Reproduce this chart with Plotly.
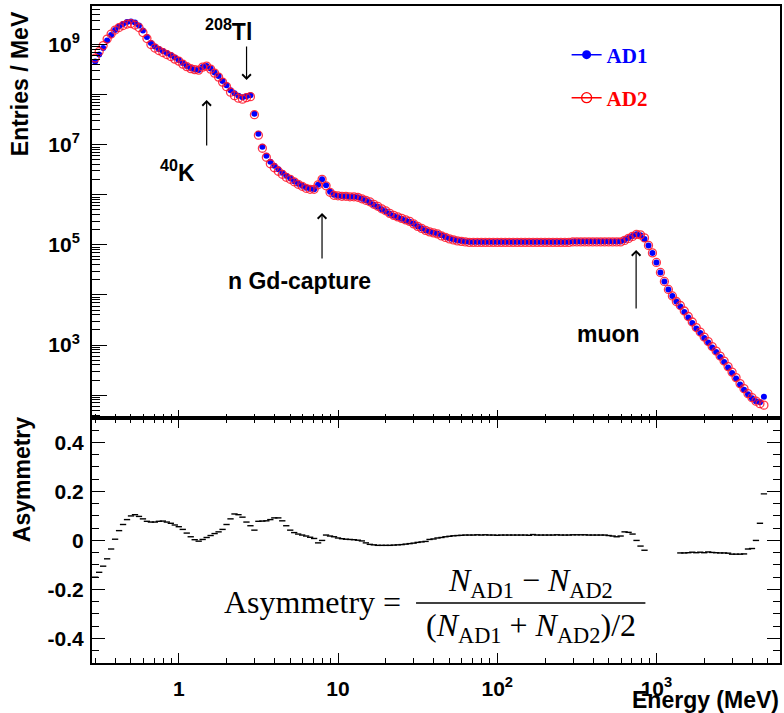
import plotly.graph_objects as go

# ---------------- data ----------------
# bin centres, log10(E / MeV)
LOG10_E = [
    -0.525, -0.500, -0.475, -0.450, -0.425, -0.400, -0.375, -0.350, -0.325, -0.300,
    -0.275, -0.250, -0.225, -0.200, -0.175, -0.150, -0.125, -0.100, -0.075, -0.050,
    -0.025, 0.000, 0.025, 0.050, 0.075, 0.100, 0.125, 0.150, 0.175, 0.200,
    0.225, 0.250, 0.275, 0.300, 0.325, 0.350, 0.375, 0.400, 0.425, 0.450,
    0.475, 0.500, 0.525, 0.550, 0.575, 0.600, 0.625, 0.650, 0.675, 0.700,
    0.725, 0.750, 0.775, 0.800, 0.825, 0.850, 0.875, 0.900, 0.925, 0.950,
    0.975, 1.000, 1.025, 1.050, 1.075, 1.100, 1.125, 1.150, 1.175, 1.200,
    1.225, 1.250, 1.275, 1.300, 1.325, 1.350, 1.375, 1.400, 1.425, 1.450,
    1.475, 1.500, 1.525, 1.550, 1.575, 1.600, 1.625, 1.650, 1.675, 1.700,
    1.725, 1.750, 1.775, 1.800, 1.825, 1.850, 1.875, 1.900, 1.925, 1.950,
    1.975, 2.000, 2.025, 2.050, 2.075, 2.100, 2.125, 2.150, 2.175, 2.200,
    2.225, 2.250, 2.275, 2.300, 2.325, 2.350, 2.375, 2.400, 2.425, 2.450,
    2.475, 2.500, 2.525, 2.550, 2.575, 2.600, 2.625, 2.650, 2.675, 2.700,
    2.725, 2.750, 2.775, 2.800, 2.825, 2.850, 2.875, 2.900, 2.925, 2.950,
    2.975, 3.000, 3.025, 3.050, 3.075, 3.100, 3.125, 3.150, 3.175, 3.200,
    3.225, 3.250, 3.275, 3.300, 3.325, 3.350, 3.375, 3.400, 3.425, 3.450,
    3.475, 3.500, 3.525, 3.550, 3.575, 3.600, 3.625, 3.650, 3.675,
]

# log10(Entries / MeV) for AD1
LOG10_AD1 = [
    8.66, 8.80, 8.93, 9.08, 9.19, 9.29, 9.36, 9.41, 9.45, 9.46,
    9.44, 9.38, 9.28, 9.15, 9.03, 8.96, 8.91, 8.87, 8.83, 8.79,
    8.74, 8.69, 8.63, 8.57, 8.53, 8.50, 8.49, 8.55, 8.57, 8.52,
    8.44, 8.37, 8.27, 8.19, 8.09, 8.03, 7.98, 7.95, 7.97, 7.99,
    7.62, 7.22, 6.96, 6.78, 6.66, 6.58, 6.51, 6.44, 6.38, 6.33,
    6.27, 6.22, 6.18, 6.14, 6.12, 6.11, 6.20, 6.31, 6.19, 6.06,
    6.00, 5.98, 5.97, 5.97, 5.96, 5.96, 5.95, 5.92, 5.89, 5.85,
    5.80, 5.76, 5.71, 5.67, 5.62, 5.58, 5.55, 5.52, 5.49, 5.46,
    5.42, 5.37, 5.33, 5.29, 5.26, 5.24, 5.22, 5.19, 5.16, 5.13,
    5.11, 5.09, 5.08, 5.07, 5.06, 5.06, 5.06, 5.06, 5.06, 5.06,
    5.06, 5.06, 5.06, 5.06, 5.06, 5.06, 5.06, 5.06, 5.06, 5.06,
    5.06, 5.06, 5.06, 5.06, 5.06, 5.06, 5.06, 5.06, 5.06, 5.06,
    5.07, 5.07, 5.07, 5.07, 5.07, 5.07, 5.07, 5.07, 5.07, 5.07,
    5.07, 5.07, 5.07, 5.10, 5.14, 5.18, 5.21, 5.19, 5.12, 4.99,
    4.84, 4.65, 4.45, 4.27, 4.11, 3.98, 3.87, 3.77, 3.66, 3.55,
    3.44, 3.33, 3.24, 3.14, 3.05, 2.95, 2.86, 2.76, 2.66, 2.55,
    2.44, 2.33, 2.21, 2.11, 2.02, 1.94, 1.88, 1.86, 1.97,
]

# log10(Entries / MeV) for AD2
LOG10_AD2 = [
    8.73, 8.86, 8.98, 9.11, 9.21, 9.29, 9.34, 9.38, 9.41, 9.42,
    9.39, 9.34, 9.24, 9.12, 9.00, 8.93, 8.88, 8.84, 8.80, 8.76,
    8.71, 8.67, 8.61, 8.56, 8.52, 8.50, 8.49, 8.55, 8.57, 8.51,
    8.43, 8.35, 8.25, 8.16, 8.05, 7.98, 7.93, 7.91, 7.94, 7.96,
    7.60, 7.19, 6.93, 6.75, 6.62, 6.54, 6.47, 6.41, 6.35, 6.31,
    6.26, 6.21, 6.17, 6.13, 6.11, 6.11, 6.20, 6.31, 6.18, 6.05,
    5.99, 5.98, 5.97, 5.97, 5.96, 5.96, 5.95, 5.92, 5.89, 5.86,
    5.81, 5.77, 5.72, 5.68, 5.63, 5.59, 5.56, 5.53, 5.50, 5.47,
    5.42, 5.37, 5.33, 5.29, 5.26, 5.24, 5.22, 5.18, 5.15, 5.12,
    5.10, 5.08, 5.07, 5.06, 5.05, 5.05, 5.05, 5.05, 5.05, 5.05,
    5.05, 5.05, 5.05, 5.05, 5.05, 5.05, 5.05, 5.05, 5.05, 5.05,
    5.05, 5.05, 5.05, 5.05, 5.05, 5.05, 5.05, 5.05, 5.05, 5.05,
    5.06, 5.06, 5.06, 5.06, 5.06, 5.06, 5.06, 5.06, 5.06, 5.06,
    5.06, 5.06, 5.06, 5.09, 5.13, 5.17, 5.21, 5.20, 5.14, 4.99,
    4.84, 4.65, 4.45, 4.27, 4.11, 3.98, 3.87, 3.79, 3.68, 3.57,
    3.46, 3.35, 3.26, 3.16, 3.07, 2.97, 2.88, 2.78, 2.68, 2.57,
    2.46, 2.35, 2.23, 2.13, 2.03, 1.95, 1.88, 1.83, 1.80,
]

# asymmetry (N_AD1 - N_AD2) / ((N_AD1 + N_AD2)/2); None = bin not shown
ASYM = [
    -0.150, -0.130, -0.105, -0.075, -0.035, 0.005, 0.040, 0.065, 0.085, 0.100,
    0.105, 0.098, 0.088, 0.078, 0.075, 0.075, 0.078, 0.079, 0.075, 0.070,
    0.063, 0.056, 0.045, 0.030, 0.015, 0.003, -0.003, 0.004, 0.012, 0.020,
    0.028, 0.035, 0.045, 0.065, 0.088, 0.108, 0.105, 0.095, 0.075, 0.060,
    0.042, 0.078, 0.079, 0.080, 0.085, 0.092, 0.092, 0.080, 0.060, 0.042,
    0.032, 0.026, 0.022, 0.018, 0.013, 0.008, -0.010, 0.000, 0.022, 0.018,
    0.015, 0.010, 0.007, 0.005, 0.004, 0.003, 0.001, -0.002, -0.010, -0.016,
    -0.018, -0.020, -0.020, -0.020, -0.020, -0.019, -0.018, -0.017, -0.015, -0.013,
    -0.011, -0.008, -0.006, -0.004, 0.004, 0.006, 0.010, 0.012, 0.015, 0.017,
    0.019, 0.020, 0.021, 0.022, 0.022, 0.022, 0.023, 0.022, 0.023, 0.022,
    0.022, 0.021, 0.022, 0.022, 0.022, 0.022, 0.022, 0.022, 0.022, 0.021,
    0.024, 0.022, 0.022, 0.022, 0.022, 0.022, 0.023, 0.022, 0.022, 0.022,
    0.023, 0.023, 0.023, 0.023, 0.022, 0.022, 0.022, 0.022, 0.022, 0.020,
    0.018, 0.015, 0.018, 0.035, 0.033, 0.026, 0.000, -0.023, -0.040, None,
    None, None, None, None, None, None, None, -0.051, -0.051, -0.050,
    -0.048, -0.050, -0.048, -0.050, -0.047, -0.049, -0.050, -0.051, -0.051, -0.052,
    -0.056, -0.056, -0.056, -0.055, -0.035, -0.033, 0.000, 0.070, 0.190,
]

X_TICK_VALUES = [1, 10, 100, 1000]
X_TICK_LABELS = ["1", "10", "10<sup>2</sup>", "10<sup>3</sup>"]
Y_TICK_VALUES = [1e2, 1e3, 1e4, 1e5, 1e6, 1e7, 1e8, 1e9]
Y_TICK_LABELS = ["", "10<sup>3</sup>", "", "10<sup>5</sup>", "", "10<sup>7</sup>", "", "10<sup>9</sup>"]
A_TICK_VALUES = [-0.4, -0.2, 0, 0.2, 0.4]
A_TICK_LABELS = ["-0.4", "-0.2", "0", "0.2", "0.4"]

assert len(LOG10_E) == len(LOG10_AD1) == len(LOG10_AD2) == len(ASYM)

energy = [10 ** v for v in LOG10_E]
ad1 = [10 ** v for v in LOG10_AD1]
ad2 = [10 ** v for v in LOG10_AD2]

# ---------------- layout geometry ----------------
W, H = 784, 713
ML, MR, MT, MB = 92, 2, 6, 50
PLOT_BOTTOM = H - MB
PW, PH = W - ML - MR, H - MT - MB
SPLIT = 0.3731


def px(x):
    return (x - ML) / PW


def py(y):
    return (PLOT_BOTTOM - y) / PH


SANS = "Liberation Sans"
SERIF = "Liberation Serif"
tickfont = dict(family=SANS, size=21, color="black", weight="bold")

x_minor = [m * 10 ** e for e in range(-1, 4) for m in range(2, 10) if 0.28 < m * 10 ** e < 6000]
y_minor = [m * 10 ** e for e in range(1, 10) for m in range(2, 10) if 35 < m * 10 ** e < 5.9e9]

BLUE = "rgb(0,0,255)"
RED = "rgb(255,0,0)"
RED_RING = "rgba(255,20,40,0.85)"

fig = go.Figure()

fig.add_trace(go.Scatter(
    x=energy, y=ad1, mode="markers", xaxis="x2", yaxis="y2", showlegend=False,
    marker=dict(symbol="circle", size=6, color=BLUE, line=dict(width=0)),
))
fig.add_trace(go.Scatter(
    x=energy, y=ad2, mode="markers", xaxis="x2", yaxis="y2", showlegend=False,
    marker=dict(symbol="circle-open", size=8, color=RED_RING, line=dict(width=1.3, color=RED_RING)),
))
fig.add_trace(go.Scatter(
    x=energy, y=ASYM, mode="markers", xaxis="x", yaxis="y", showlegend=False,
    marker=dict(symbol="line-ew", size=4.5, color="black", line=dict(width=1.4, color="black")),
))

# legend entries
fig.add_trace(go.Scatter(
    x=[None], y=[None], mode="lines+markers", name="<b>AD1</b>", legend="legend",
    xaxis="x2", yaxis="y2",
    line=dict(color=BLUE, width=1.5),
    marker=dict(symbol="circle", size=9, color=BLUE),
))
fig.add_trace(go.Scatter(
    x=[None], y=[None], mode="lines+markers", name="<b>AD2</b>", legend="legend2",
    xaxis="x2", yaxis="y2",
    line=dict(color=RED, width=1.5),
    marker=dict(symbol="circle-open", size=10, color=RED, line=dict(width=1.3)),
))

axis_common = dict(showgrid=False, zeroline=False, showline=True, linecolor="black", linewidth=2,
                   ticks="inside", tickcolor="black", tickwidth=1.2)

fig.update_layout(
    width=W, height=H, margin=dict(l=ML, r=MR, t=MT, b=MB),
    paper_bgcolor="white", plot_bgcolor="white",
    xaxis=dict(**axis_common, type="log", range=[-0.545, 3.776], anchor="y", domain=[0, 1],
               mirror="ticks", ticklen=10, tickvals=X_TICK_VALUES, ticktext=X_TICK_LABELS,
               tickfont=tickfont, ticklabelstandoff=6,
               minor=dict(tickmode="array", tickvals=x_minor, ticks="inside", ticklen=5,
                          tickcolor="black", tickwidth=1.2, showgrid=False)),
    xaxis2=dict(**axis_common, type="log", range=[-0.545, 3.776], anchor="y2", domain=[0, 1],
                matches="x", mirror=True, ticklen=8, tickvals=X_TICK_VALUES, showticklabels=False,
                minor=dict(tickmode="array", tickvals=x_minor, ticks="inside", ticklen=4,
                           tickcolor="black", tickwidth=1.2, showgrid=False)),
    yaxis=dict(**axis_common, range=[-0.5, 0.5], domain=[0, SPLIT], anchor="x",
               mirror="ticks", ticklen=13, tickvals=A_TICK_VALUES, ticktext=A_TICK_LABELS,
               tickfont=tickfont, ticklabelstandoff=2,
               minor=dict(dtick=0.05, tick0=0, ticks="inside", ticklen=7,
                          tickcolor="black", tickwidth=1.2, showgrid=False)),
    yaxis2=dict(**axis_common, type="log", range=[1.546, 9.77], domain=[SPLIT, 1], anchor="x2",
                mirror=True, ticklen=15, tickvals=Y_TICK_VALUES, ticktext=Y_TICK_LABELS,
                tickfont=tickfont, ticklabelstandoff=6,
                minor=dict(tickmode="array", tickvals=y_minor, ticks="inside", ticklen=8,
                           tickcolor="black", tickwidth=1.2, showgrid=False)),
    legend=dict(x=px(568), y=py(55), xanchor="left", yanchor="middle", bgcolor="rgba(0,0,0,0)",
                font=dict(family=SERIF, size=21, color=BLUE, weight="bold"),
                itemsizing="trace"),
    legend2=dict(x=px(568), y=py(98), xanchor="left", yanchor="middle", bgcolor="rgba(0,0,0,0)",
                 font=dict(family=SERIF, size=21, color=RED, weight="bold"),
                 itemsizing="trace"),
)

annots = []
label_font = dict(family=SANS, size=23, color="black", weight="bold")

# axis titles
annots.append(dict(text="Entries / MeV", x=px(20), y=py(84), xref="paper", yref="paper",
                   textangle=-90, showarrow=False, font=label_font, xanchor="center", yanchor="middle"))
annots.append(dict(text="Asymmetry", x=px(22), y=py(480), xref="paper", yref="paper",
                   textangle=-90, showarrow=False, font=label_font, xanchor="center", yanchor="middle"))
annots.append(dict(text="Energy (MeV)", x=px(783), y=py(700), xref="paper", yref="paper",
                   showarrow=False, font=label_font, xanchor="right", yanchor="middle"))

# feature labels
annots.append(dict(text="<sup>208</sup>Tl", x=px(229), y=py(30), xref="paper", yref="paper",
                   showarrow=False, font=label_font, xanchor="center", yanchor="middle"))
annots.append(dict(text="<sup>40</sup>K", x=px(178), y=py(171), xref="paper", yref="paper",
                   showarrow=False, font=label_font, xanchor="center", yanchor="middle"))
annots.append(dict(text="n Gd-capture", x=px(300), y=py(281), xref="paper", yref="paper",
                   showarrow=False, font=label_font, xanchor="center", yanchor="middle"))
annots.append(dict(text="muon", x=px(610), y=py(334), xref="paper", yref="paper",
                   showarrow=False, font=label_font, xanchor="center", yanchor="middle"))

# arrows (head at x,y; tail offset in pixels)
for hx, hy, ty in [(247, 80, 45), (207, 100, 147), (322.7, 213, 260), (637.7, 250, 310)]:
    annots.append(dict(text="", x=px(hx), y=py(hy), xref="paper", yref="paper",
                       ax=0, ay=ty - hy, showarrow=True, arrowhead=4, arrowsize=1.4,
                       arrowwidth=1.2, arrowcolor="black"))

# formula
ffont = dict(family=SERIF, size=32, color="black")
annots.append(dict(text="Asymmetry =", x=px(404), y=py(602), xref="paper", yref="paper",
                   showarrow=False, font=ffont, xanchor="right", yanchor="middle"))
annots.append(dict(text="<i>N</i><sub>AD1</sub> − <i>N</i><sub>AD2</sub>", x=px(532), y=py(582),
                   xref="paper", yref="paper", showarrow=False, font=ffont,
                   xanchor="center", yanchor="middle"))
annots.append(dict(text="(<i>N</i><sub>AD1</sub> + <i>N</i><sub>AD2</sub>)/2", x=px(532), y=py(627),
                   xref="paper", yref="paper", showarrow=False, font=ffont,
                   xanchor="center", yanchor="middle"))

fig.update_layout(annotations=annots)
fig.add_shape(type="line", xref="paper", yref="paper", x0=px(417), x1=px(647), y0=py(603), y1=py(603),
              line=dict(color="black", width=1.5))

fig.write_html("out.html")
